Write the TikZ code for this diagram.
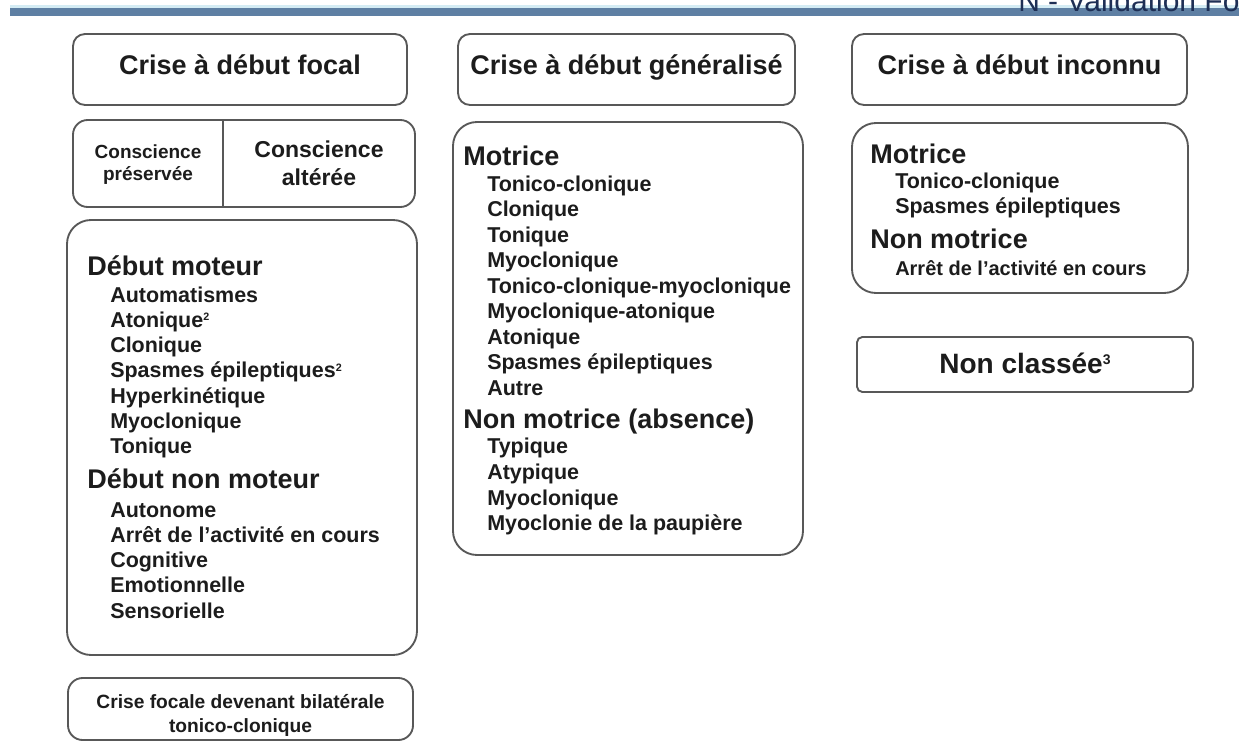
\documentclass[tikz,border=0pt]{standalone}
\usepackage{fontspec}
\setmainfont{Liberation Sans}
\definecolor{ink}{HTML}{1C1C1C}
\definecolor{edge}{HTML}{585858}
\definecolor{band}{HTML}{5E7FA3}
\definecolor{bandlight}{HTML}{D4ECF4}
\definecolor{navy}{HTML}{1E2F55}
\newcommand\expo[1]{\raisebox{0.6ex}{\scalebox{0.5}{#1}}}

\begin{document}
\begin{tikzpicture}[
	x=0.75pt, y=-0.75pt,
	box/.style={ draw=edge, line width=1.4pt, rounded corners=#1 },
	box/.default=9pt,
	boxsize/.style 2 args={ minimum width=#1*0.75pt, minimum height=#2*0.75pt, inner sep=0pt },
	title/.style={ box, boxsize={#1}{71}, text=ink, font=\bfseries\fontsize{20.25}{24}\selectfont, text height=0.9em, text depth=0.12em },
	head/.style={ anchor=base west, inner sep=0pt, text=ink, font=\bfseries\fontsize{20.25}{24}\selectfont },
	item/.style={ anchor=base west, inner sep=0pt, text=ink, font=\bfseries\fontsize{16.1}{19}\selectfont },
	small/.style={ anchor=base, inner sep=0pt, text=ink, font=\bfseries\fontsize{#1}{#1}\selectfont }
]

\useasboundingbox [fill=white] (0,0) rectangle (1239,742);

% bandeau du haut
\fill[bandlight] (10,5) rectangle (1239,8);
\fill[band] (10,8) rectangle (1239,16);
\begin{scope}
\clip (0,0) rectangle (1239,742);
\node at (1018,12) (entete) [anchor=base west, inner sep=0pt, text=navy, font=\fontsize{22.5}{24}\selectfont] {N - Validation Fo};
\end{scope}

% titres
\node at (240,69.5) (focal) [title=334] {Crise à début focal};
\node at (626.5,69.5) (generalise) [title=337] {Crise à début généralisé};
\node at (1019.5,69.5) (inconnu) [title=335] {Crise à début inconnu};

% conscience
\node at (244,163.5) (conscience) [box=11pt, boxsize={342}{87}] {};
\draw[edge, line width=1.8pt] (223,0 |- conscience.north) -- (223,0 |- conscience.south);
\node at (148,158) (cpres1) [small=14.25] {Conscience};
\node at (148,180) (cpres2) [small=14.25] {préservée};
\node at (319,157) (calt1) [small=17.25] {Conscience};
\node at (319,185) (calt2) [small=17.25] {altérée};

% focal
\node at (242,437.5) (listefocal) [box=18pt, boxsize={350}{435}] {};
\node at (87,275) (moteur) [head] {Début moteur};
\foreach \txt [count=\i] in {Automatismes, Atonique\expo{2}, Clonique, Spasmes épileptiques\expo{2}, Hyperkinétique, Myoclonique, Tonique}
	\node at (110,{276.67+25.33*\i}) (fm\i) [item] {\txt};
\node at (87,488) (nonmoteur) [head] {Début non moteur};
\foreach \txt [count=\i] in {Autonome, Arrêt de l’activité en cours, Cognitive, Emotionnelle, Sensorielle}
	\node at (110,{491.75+25.25*\i}) (fn\i) [item] {\txt};

\node at (240.5,709) (bilaterale) [box=11pt, boxsize={345}{62}] {};
\node at (240.5,708) (bil1) [small=14.4] {Crise focale devenant bilatérale};
\node at (240.5,732) (bil2) [small=14.4] {tonico-clonique};

% generalise
\node at (628,338.5) (listegen) [box=18pt, boxsize={350}{433}] {};
\node at (463,165) (gmotrice) [head] {Motrice};
\foreach \txt [count=\i] in {Tonico-clonique, Clonique, Tonique, Myoclonique, Tonico-clonique-myoclonique, Myoclonique-atonique, Atonique, Spasmes épileptiques, Autre}
	\node at (487,{165.5+25.5*\i}) (gm\i) [item] {\txt};
\node at (463,428) (gnonmotrice) [head] {Non motrice (absence)};
\foreach \txt [count=\i] in {Typique, Atypique, Myoclonique, Myoclonie de la paupière}
	\node at (487,{428+25.7*\i}) (gn\i) [item] {\txt};

% inconnu
\node at (1020,208) (listeinc) [box=18pt, boxsize={336}{170}] {};
\node at (870,163) (imotrice) [head] {Motrice};
\node at (895,188) (im1) [item] {Tonico-clonique};
\node at (895,213) (im2) [item] {Spasmes épileptiques};
\node at (870,248) (inonmotrice) [head] {Non motrice};
\node at (895,275) (in1) [item, font=\bfseries\fontsize{15}{18}\selectfont] {Arrêt de l’activité en cours};

\node at (1025,364.5) (nonclassee) [box=4pt, boxsize={336}{55}] {};
\node at (1025,373) (nc) [small=21] {Non classée\expo{3}};

\end{tikzpicture}
\end{document}
